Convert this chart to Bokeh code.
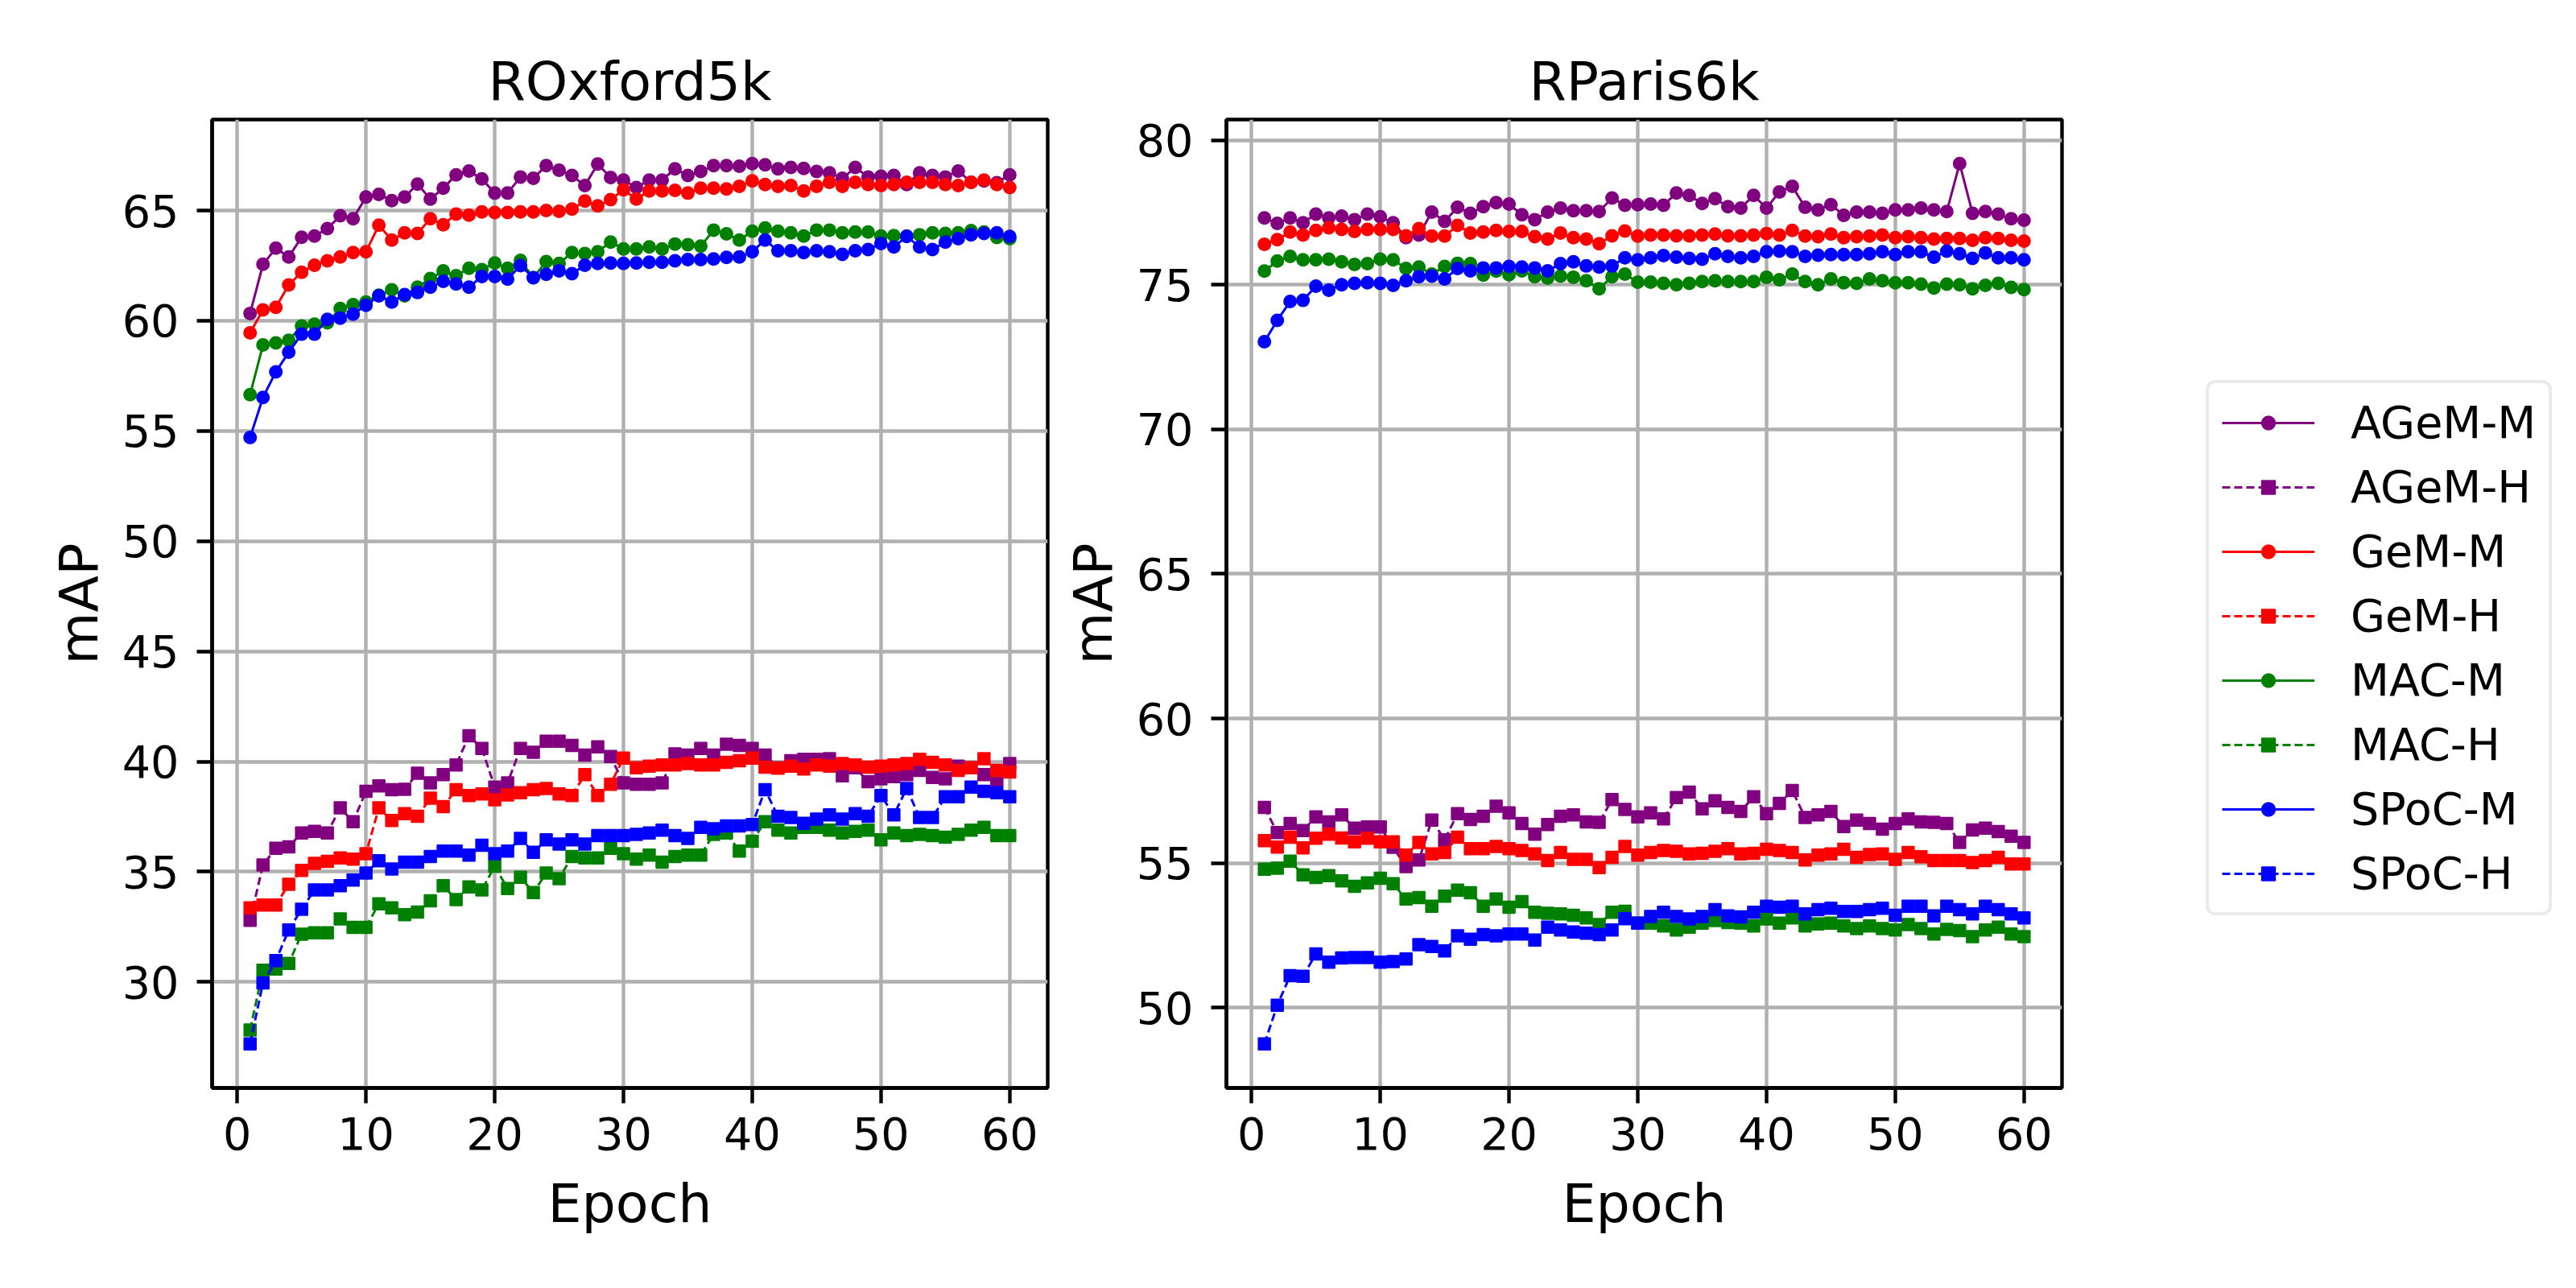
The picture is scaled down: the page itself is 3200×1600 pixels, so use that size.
from bokeh.plotting import figure
from bokeh.layouts import row
from bokeh.models import Legend, LegendItem, FixedTicker, Range1d
from bokeh.embed import file_html
from bokeh.resources import INLINE

# ---------------- data ----------------
epochs = list(range(1, 61))
series_names = ["AGeM-M", "AGeM-H", "GeM-M", "GeM-H", "MAC-M", "MAC-H", "SPoC-M", "SPoC-H"]
series_colors = ["#800080", "#800080", "#ff0000", "#ff0000", "#008000", "#008000", "#0000ff", "#0000ff"]
x_ticks = [0, 10, 20, 30, 40, 50, 60]
oxford_y_ticks = [30, 35, 40, 45, 50, 55, 60, 65]
paris_y_ticks = [50, 55, 60, 65, 70, 75, 80]
titles = ["ROxford5k", "RParis6k"]

ox_agem_m = [60.33, 62.56, 63.29, 62.89, 63.79, 63.84, 64.18, 64.76, 64.63, 65.61,
             65.73, 65.45, 65.61, 66.20, 65.52, 66.01, 66.62, 66.79, 66.43, 65.79,
             65.79, 66.52, 66.46, 67.04, 66.83, 66.59, 66.13, 67.11, 66.50, 66.38,
             66.04, 66.38, 66.38, 66.89, 66.59, 66.77, 67.04, 67.04, 67.01, 67.13,
             67.07, 66.89, 66.95, 66.91, 66.77, 66.71, 66.46, 66.95, 66.52, 66.55,
             66.59, 66.18, 66.71, 66.59, 66.52, 66.79, 66.28, 66.34, 66.26, 66.62]
ox_agem_h = [32.80, 35.31, 36.07, 36.13, 36.76, 36.83, 36.76, 37.90, 37.27, 38.65,
             38.90, 38.72, 38.74, 39.47, 39.03, 39.41, 39.85, 41.17, 40.60, 38.84,
             39.03, 40.60, 40.42, 40.92, 40.92, 40.73, 40.29, 40.67, 40.23, 39.03,
             38.97, 38.97, 39.03, 40.35, 40.29, 40.60, 40.29, 40.79, 40.73, 40.60,
             40.29, 39.72, 40.04, 40.10, 40.10, 40.13, 39.35, 39.72, 39.09, 39.22,
             39.32, 39.41, 39.60, 39.28, 39.22, 39.79, 39.72, 39.41, 39.16, 39.91]
ox_gem_m = [59.45, 60.49, 60.61, 61.62, 62.20, 62.52, 62.72, 62.89, 63.09, 63.13,
            64.33, 63.66, 63.99, 63.96, 64.63, 64.35, 64.84, 64.79, 64.94, 64.91,
            64.91, 64.94, 64.94, 65.00, 64.96, 65.06, 65.43, 65.21, 65.49, 65.94,
            65.52, 65.89, 65.89, 65.91, 65.79, 66.01, 66.01, 65.98, 66.10, 66.34,
            66.18, 66.10, 66.13, 65.89, 66.10, 66.28, 66.10, 66.28, 66.18, 66.13,
            66.18, 66.28, 66.28, 66.28, 66.18, 66.13, 66.28, 66.38, 66.18, 66.04]
ox_gem_h = [33.36, 33.49, 33.49, 34.43, 35.06, 35.38, 35.47, 35.63, 35.57, 35.82,
            37.90, 37.33, 37.64, 37.52, 38.34, 37.96, 38.72, 38.46, 38.53, 38.27,
            38.49, 38.59, 38.72, 38.78, 38.53, 38.46, 39.41, 38.46, 38.97, 40.16,
            39.72, 39.79, 39.85, 39.85, 39.91, 39.85, 39.85, 39.97, 40.04, 40.16,
            39.75, 39.70, 39.79, 39.66, 39.85, 39.79, 39.91, 39.85, 39.75, 39.79,
            39.85, 39.91, 40.10, 39.97, 39.85, 39.60, 39.72, 40.13, 39.60, 39.53]
ox_mac_m = [56.65, 58.90, 58.99, 59.11, 59.76, 59.84, 59.91, 60.55, 60.73, 60.85,
            61.16, 61.40, 61.13, 61.52, 61.91, 62.26, 62.04, 62.38, 62.32, 62.62,
            62.38, 62.74, 61.95, 62.68, 62.60, 63.09, 63.05, 63.13, 63.57, 63.26,
            63.26, 63.35, 63.26, 63.48, 63.45, 63.38, 64.11, 63.94, 63.66, 64.06,
            64.21, 64.06, 63.99, 63.84, 64.11, 64.11, 63.99, 64.02, 64.02, 63.84,
            63.86, 63.84, 63.90, 63.99, 63.96, 63.99, 64.09, 64.02, 63.78, 63.72]
ox_mac_h = [27.82, 30.53, 30.59, 30.84, 32.17, 32.23, 32.23, 32.86, 32.48, 32.48,
            33.55, 33.36, 33.05, 33.17, 33.68, 34.37, 33.74, 34.31, 34.18, 35.25,
            34.24, 34.75, 34.06, 34.94, 34.69, 35.69, 35.63, 35.63, 36.07, 35.82,
            35.57, 35.76, 35.44, 35.69, 35.76, 35.76, 36.70, 36.76, 35.94, 36.39,
            37.27, 36.89, 36.76, 37.02, 37.02, 36.89, 36.76, 36.83, 36.89, 36.45,
            36.76, 36.64, 36.70, 36.64, 36.57, 36.70, 36.89, 37.02, 36.64, 36.64]
ox_spoc_m = [54.70, 56.52, 57.68, 58.57, 59.39, 59.39, 60.06, 60.12, 60.30, 60.70,
             61.13, 60.85, 61.18, 61.28, 61.52, 61.79, 61.67, 61.52, 62.01, 62.01,
             61.89, 62.50, 61.95, 62.11, 62.26, 62.13, 62.52, 62.60, 62.62, 62.60,
             62.62, 62.65, 62.65, 62.72, 62.77, 62.77, 62.80, 62.87, 62.89, 63.13,
             63.66, 63.17, 63.17, 63.09, 63.17, 63.13, 63.01, 63.17, 63.23, 63.50,
             63.35, 63.82, 63.35, 63.23, 63.57, 63.72, 63.90, 63.96, 63.99, 63.82]
ox_spoc_h = [27.19, 29.96, 30.97, 32.36, 33.30, 34.18, 34.18, 34.37, 34.62, 34.94,
             35.50, 35.13, 35.44, 35.44, 35.69, 35.94, 35.94, 35.76, 36.20, 35.82,
             35.94, 36.51, 35.88, 36.45, 36.26, 36.45, 36.26, 36.64, 36.64, 36.64,
             36.70, 36.76, 36.89, 36.64, 36.51, 37.02, 36.95, 37.08, 37.08, 37.14,
             38.72, 37.52, 37.46, 37.20, 37.39, 37.58, 37.39, 37.64, 37.52, 38.46,
             37.58, 38.78, 37.46, 37.46, 38.40, 38.40, 38.84, 38.65, 38.59, 38.40]

pa_agem_m = [77.31, 77.12, 77.31, 77.14, 77.44, 77.31, 77.37, 77.25, 77.44, 77.35,
             77.14, 76.63, 76.72, 77.51, 77.19, 77.68, 77.47, 77.70, 77.84, 77.79,
             77.42, 77.25, 77.51, 77.65, 77.56, 77.56, 77.53, 78.00, 77.75, 77.77,
             77.79, 77.75, 78.17, 78.09, 77.81, 77.98, 77.70, 77.65, 78.09, 77.65,
             78.21, 78.40, 77.68, 77.59, 77.77, 77.40, 77.51, 77.51, 77.47, 77.59,
             77.59, 77.65, 77.59, 77.53, 79.19, 77.47, 77.53, 77.44, 77.28, 77.23]
pa_agem_h = [56.93, 56.06, 56.37, 56.13, 56.60, 56.43, 56.67, 56.21, 56.25, 56.25,
             55.55, 54.88, 55.11, 56.49, 55.81, 56.71, 56.51, 56.62, 56.97, 56.74,
             56.37, 56.00, 56.34, 56.62, 56.67, 56.43, 56.41, 57.20, 56.86, 56.60,
             56.74, 56.53, 57.27, 57.46, 56.88, 57.16, 56.93, 56.79, 57.30, 56.71,
             57.07, 57.51, 56.58, 56.67, 56.79, 56.27, 56.49, 56.37, 56.18, 56.37,
             56.53, 56.43, 56.41, 56.37, 55.72, 56.15, 56.21, 56.09, 55.93, 55.72]
pa_gem_m = [76.40, 76.56, 76.82, 76.72, 76.88, 76.97, 76.91, 76.84, 76.91, 76.91,
            76.91, 76.69, 76.94, 76.68, 76.68, 77.05, 76.79, 76.82, 76.88, 76.84,
            76.84, 76.66, 76.58, 76.79, 76.63, 76.58, 76.42, 76.69, 76.86, 76.68,
            76.72, 76.72, 76.69, 76.69, 76.72, 76.75, 76.69, 76.69, 76.72, 76.77,
            76.72, 76.88, 76.68, 76.66, 76.75, 76.63, 76.66, 76.68, 76.72, 76.63,
            76.66, 76.63, 76.58, 76.60, 76.60, 76.54, 76.63, 76.60, 76.54, 76.51]
pa_gem_h = [55.78, 55.56, 55.90, 55.53, 55.86, 56.00, 55.87, 55.74, 55.86, 55.74,
            55.74, 55.28, 55.72, 55.32, 55.37, 55.90, 55.50, 55.50, 55.58, 55.50,
            55.44, 55.32, 55.09, 55.37, 55.13, 55.13, 54.85, 55.20, 55.58, 55.28,
            55.37, 55.44, 55.41, 55.32, 55.34, 55.41, 55.50, 55.32, 55.34, 55.48,
            55.44, 55.37, 55.11, 55.28, 55.32, 55.48, 55.20, 55.30, 55.32, 55.13,
            55.37, 55.22, 55.09, 55.09, 55.09, 55.02, 55.09, 55.20, 54.97, 54.97]
pa_mac_m = [75.47, 75.82, 75.98, 75.86, 75.86, 75.88, 75.79, 75.70, 75.73, 75.88,
            75.86, 75.56, 75.61, 75.37, 75.63, 75.74, 75.73, 75.33, 75.47, 75.35,
            75.48, 75.28, 75.23, 75.30, 75.26, 75.14, 74.86, 75.28, 75.37, 75.09,
            75.09, 75.05, 75.00, 75.05, 75.11, 75.14, 75.11, 75.11, 75.11, 75.26,
            75.17, 75.37, 75.11, 75.00, 75.20, 75.07, 75.05, 75.20, 75.14, 75.07,
            75.07, 75.02, 74.89, 75.02, 75.00, 74.86, 74.98, 75.05, 74.91, 74.83]
pa_mac_h = [54.79, 54.83, 55.07, 54.60, 54.51, 54.57, 54.39, 54.20, 54.32, 54.48,
            54.29, 53.76, 53.81, 53.51, 53.86, 54.07, 53.98, 53.51, 53.76, 53.48,
            53.67, 53.30, 53.27, 53.25, 53.20, 53.11, 52.88, 53.30, 53.34, 52.93,
            52.93, 52.83, 52.69, 52.79, 52.93, 53.02, 52.95, 52.93, 52.83, 53.07,
            52.93, 53.11, 52.83, 52.90, 52.93, 52.83, 52.74, 52.83, 52.74, 52.69,
            52.88, 52.74, 52.55, 52.71, 52.67, 52.46, 52.69, 52.79, 52.55, 52.46]
pa_spoc_m = [73.03, 73.77, 74.42, 74.46, 74.95, 74.81, 75.00, 75.05, 75.07, 75.05,
             74.98, 75.14, 75.28, 75.30, 75.20, 75.56, 75.48, 75.58, 75.58, 75.63,
             75.61, 75.58, 75.48, 75.73, 75.79, 75.65, 75.61, 75.65, 75.93, 75.86,
             75.93, 76.01, 75.95, 75.91, 75.88, 76.07, 75.98, 75.93, 75.98, 76.14,
             76.16, 76.14, 75.98, 76.02, 76.04, 76.04, 76.04, 76.07, 76.14, 76.04,
             76.14, 76.14, 75.95, 76.16, 76.07, 75.91, 76.10, 75.93, 75.93, 75.86]
pa_spoc_h = [48.75, 50.09, 51.11, 51.09, 51.86, 51.58, 51.72, 51.74, 51.74, 51.58,
             51.60, 51.69, 52.18, 52.12, 51.97, 52.49, 52.37, 52.53, 52.49, 52.55,
             52.55, 52.34, 52.79, 52.69, 52.62, 52.58, 52.53, 52.69, 53.08, 52.93,
             53.16, 53.30, 53.16, 53.07, 53.16, 53.39, 53.18, 53.14, 53.30, 53.51,
             53.48, 53.51, 53.25, 53.39, 53.44, 53.33, 53.33, 53.39, 53.44, 53.20,
             53.51, 53.51, 53.18, 53.51, 53.39, 53.25, 53.51, 53.39, 53.25, 53.11]

oxford = [ox_agem_m, ox_agem_h, ox_gem_m, ox_gem_h, ox_mac_m, ox_mac_h, ox_spoc_m, ox_spoc_h]
paris = [pa_agem_m, pa_agem_h, pa_gem_m, pa_gem_h, pa_mac_m, pa_mac_h, pa_spoc_m, pa_spoc_h]

# ---------------- styling ----------------
FONT = "DejaVu Sans"
TICK_SIZE = "55.6px"
LABEL_SIZE = "66.7px"
FRAME_W, FRAME_H = 1038, 1203
LW = 4.4


def make_fig(title, data, y_ticks, border_left, border_right):
    allv = [v for s in data for v in s]
    lo, hi = min(allv), max(allv)
    pad = 0.05 * (hi - lo)
    xpad = 0.05 * (epochs[-1] - epochs[0])
    p = figure(frame_width=FRAME_W, frame_height=FRAME_H,
               x_range=Range1d(epochs[0] - xpad, epochs[-1] + xpad),
               y_range=Range1d(lo - pad, hi + pad),
               output_backend="svg", toolbar_location=None,
               min_border_left=border_left, min_border_right=border_right,
               min_border_top=148, min_border_bottom=233, title=title)
    p.background_fill_color = "white"
    p.border_fill_color = "white"
    p.outline_line_color = "black"
    p.outline_line_width = LW
    p.outline_line_alpha = 1.0

    p.title.text_font = FONT
    p.title.text_font_size = LABEL_SIZE
    p.title.text_font_style = "normal"
    p.title.text_color = "black"
    p.title.align = "center"
    p.title.standoff = 18

    p.xaxis.ticker = FixedTicker(ticks=x_ticks)
    p.yaxis.ticker = FixedTicker(ticks=y_ticks)
    p.xaxis.axis_label = "Epoch"
    p.yaxis.axis_label = "mAP"
    for ax in (p.xaxis, p.yaxis):
        ax.axis_line_width = LW
        ax.axis_line_color = "black"
        ax.major_tick_line_width = LW
        ax.major_tick_line_color = "black"
        ax.major_tick_in = 0
        ax.major_tick_out = 19
        ax.minor_tick_in = 0
        ax.minor_tick_out = 0
        ax.major_label_text_font = FONT
        ax.major_label_text_font_size = TICK_SIZE
        ax.major_label_text_color = "black"
        ax.axis_label_text_font = FONT
        ax.axis_label_text_font_size = LABEL_SIZE
        ax.axis_label_text_font_style = "normal"
        ax.axis_label_text_color = "black"
    p.xaxis.major_label_standoff = 17
    p.xaxis.axis_label_standoff = 25
    p.yaxis.major_label_standoff = 22
    p.yaxis.axis_label_standoff = 12

    p.grid.grid_line_color = "#b0b0b0"
    p.grid.grid_line_width = LW

    items = []
    for name, color, vals in zip(series_names, series_colors, data):
        hollow = name.endswith("-H")
        rl = p.line(epochs, vals, line_color=color, line_width=3,
                    line_dash="10 5" if hollow else "solid")
        rm = p.scatter(epochs, vals, marker="square" if hollow else "circle",
                       size=15 if hollow else 15.5, fill_color=color,
                       line_color=color, line_width=1.5)
        items.append(LegendItem(label=name, renderers=[rl, rm]))
    return p, items


p1, _ = make_fig(titles[0], oxford, oxford_y_ticks, 263, 10)
p2, items = make_fig(titles[1], paris, paris_y_ticks, 212, 623)

legend = Legend(items=items, location=(179, 214))
legend.label_text_font = FONT
legend.label_text_font_size = TICK_SIZE
legend.label_text_color = "black"
legend.glyph_width = 115
legend.glyph_height = 42
legend.label_standoff = 45
legend.label_height = 60
legend.spacing = 15
legend.padding = 16
legend.margin = 0
legend.border_line_color = "#d6d6d6"
legend.border_line_width = 4
legend.border_radius = 12
legend.background_fill_color = "white"
legend.background_fill_alpha = 1.0
p2.add_layout(legend, "right")

layout = row(p1, p2, spacing=0)
open("out.html", "w").write(file_html(layout, INLINE))
